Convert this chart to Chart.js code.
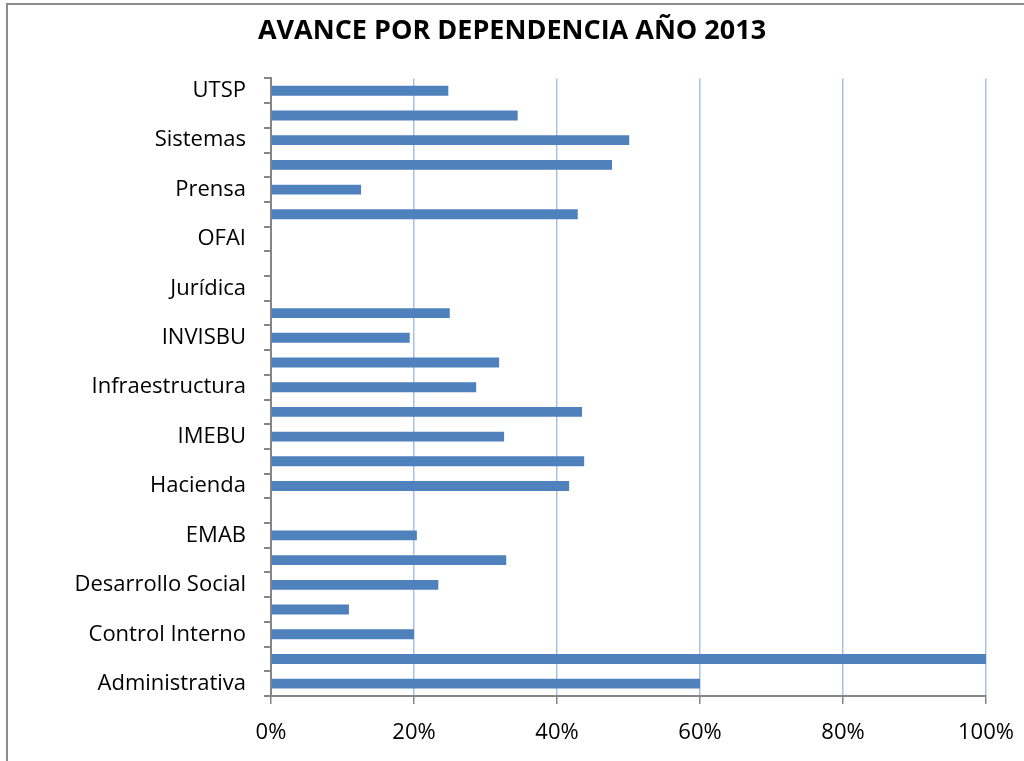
<!DOCTYPE html>
<html>
<head>
<meta charset="utf-8">
<script src="https://cdn.jsdelivr.net/npm/chart.js@4/dist/chart.umd.min.js"></script>
<style>
html,body{margin:0;padding:0;background:#fff;overflow:hidden;}
#wrap{position:relative;width:1024px;height:761px;}
canvas{display:block;}
</style>
</head>
<body>
<div id="wrap"><canvas id="c" width="1024" height="761"></canvas></div>
<script>
const categories = [
  "Administrativa", "Bomberos", "Control Interno", "Cultura", "Desarrollo Social",
  "Educación", "EMAB", "Gobierno", "Hacienda", "IMCT", "IMEBU", "INDERBU",
  "Infraestructura", "Interior", "INVISBU", "ISABU", "Jurídica", "Movilidad",
  "OFAI", "Planeación", "Prensa", "Salud", "Sistemas", "Tránsito", "UTSP"
];
const avance = [
  0.600, 1.000, 0.200, 0.109, 0.234,
  0.329, 0.204, 0, 0.417, 0.438, 0.326, 0.435,
  0.287, 0.319, 0.194, 0.250, 0, 0,
  0, 0.429, 0.126, 0.477, 0.501, 0.345, 0.248
];
const xTicks = [0, 0.2, 0.4, 0.6, 0.8, 1.0];
const chartTitle = "AVANCE POR DEPENDENCIA AÑO 2013";

const FONT = "'Open Sans', 'Noto Sans', sans-serif";

const framePlugin = {
  id: 'frame',
  beforeDraw(chart) {
    const ctx = chart.ctx;
    ctx.save();
    ctx.fillStyle = '#fff';
    ctx.fillRect(0, 0, chart.width, chart.height);
    ctx.strokeStyle = '#8c8c8c';
    ctx.lineWidth = 2;
    ctx.beginPath();
    ctx.moveTo(7, 761);
    ctx.lineTo(7, 4);
    ctx.lineTo(1024, 4);
    ctx.stroke();
    ctx.restore();
  }
};

new Chart(document.getElementById('c'), {
  type: 'bar',
  data: {
    labels: categories,
    datasets: [{
      label: 'Avance',
      data: avance,
      backgroundColor: '#4F81BD',
      borderWidth: 0,
      categoryPercentage: 1.0,
      barPercentage: 0.4
    }]
  },
  options: {
    indexAxis: 'y',
    responsive: false,
    animation: false,
    devicePixelRatio: 1,
    layout: { padding: { left: 0, right: 0, top: 0, bottom: 0 } },
    plugins: {
      legend: { display: false },
      tooltip: { enabled: false },
      title: {
        display: true,
        text: chartTitle,
        color: '#000',
        font: { family: FONT, size: 27, weight: 'bold' },
        padding: { top: 15, bottom: 31 }
      }
    },
    scales: {
      x: {
        min: 0,
        max: 1,
        afterBuildTicks(scale) { scale.ticks = xTicks.map(v => ({ value: v })); },
        afterFit(scale) { scale.height = 65; scale.paddingLeft = 0; scale.paddingRight = 38; },
        border: { display: true, color: '#868686', width: 2 },
        grid: {
          color: '#A9BFE6',
          lineWidth: 1.5,
          drawTicks: true,
          tickLength: 8,
          tickColor: '#868686'
        },
        ticks: {
          color: '#000',
          maxRotation: 0,
          font: { family: FONT, size: 22 },
          padding: 16,
          callback: v => Math.round(v * 100) + '%'
        }
      },
      y: {
        reverse: true,
        offset: true,
        afterFit(scale) { scale.width = 271; },
        border: { display: true, color: '#868686', width: 2 },
        grid: {
          offset: true,
          drawOnChartArea: false,
          drawTicks: true,
          tickLength: 7,
          tickColor: '#868686',
          lineWidth: 2
        },
        ticks: {
          autoSkip: false,
          color: '#000',
          font: { family: FONT, size: 22 },
          padding: 18,
          callback: function (v, i) { return i % 2 === 0 ? this.getLabelForValue(v) : ''; }
        }
      }
    }
  },
  plugins: [framePlugin]
});
</script>
</body>
</html>
